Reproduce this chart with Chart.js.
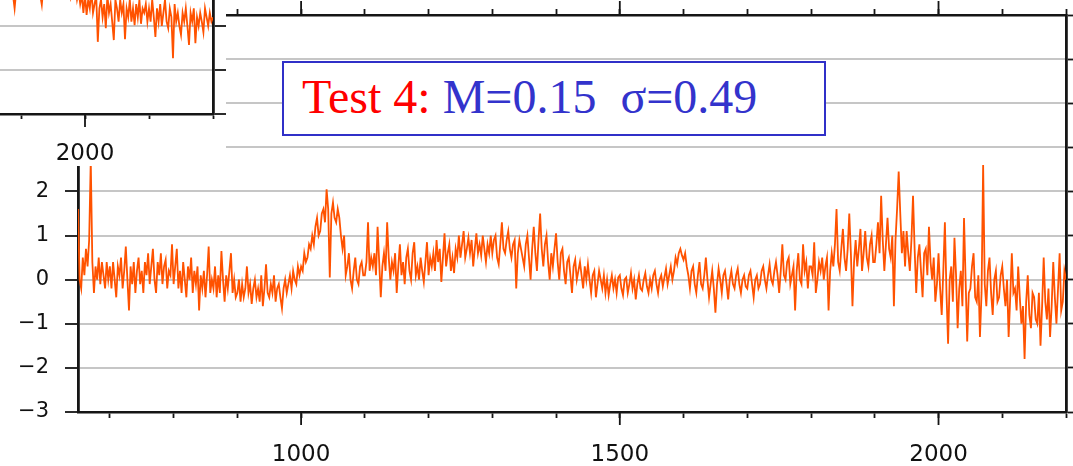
<!DOCTYPE html>
<html>
<head>
<meta charset="utf-8">
<script src="https://cdn.jsdelivr.net/npm/chart.js@4.4.1/dist/chart.umd.min.js"></script>
<style>
  html, body { margin: 0; padding: 0; background: #fff; }
  body { width: 1073px; height: 466px; position: relative; overflow: hidden; }
  #main { position: absolute; left: 0; top: 0; }
  #inset { position: absolute; left: -11px; top: -18px; background: #fff; z-index: 2; }
  #label {
    position: absolute; left: 282px; top: 61px; width: 540px; height: 71px;
    border: 2px solid #3030c8; background: #fff; z-index: 3;
  }
  #label span.t {
    position: absolute; left: 18px; top: 10px; white-space: pre;
    font-family: "Liberation Serif", "Times New Roman", serif; font-size: 48px; line-height: 1;
  }
</style>
</head>
<body>
<canvas id="main" width="1073" height="466"></canvas>
<canvas id="inset" width="237" height="184"></canvas>
<div id="label"><span class="t"><span style="color:#ff0000">Test 4: </span><span style="color:#3333cc">M=0.15  σ=0.49</span></span></div>
<script>
// ---- main series: one value every 2.5 years, starting at year 650 ----
const mainStartYear = 650;
const mainStepYears = 2.5;
const mainValues = [
  // 650
  1.6, 0.0, -0.2, 0.5, 0.1, 0.7, 0.3, 0.9, 2.7, 0.4, -0.3, 0.3, 0.0, 0.5, -0.1, 0.4, 0.1, -0.2, 0.4, 0.0,
  // 700
  0.3, -0.2, 0.4, 0.0, -0.4, 0.3, 0.1, 0.5, -0.2, 0.2, 0.75, 0.0, -0.7, 0.3, -0.1, 0.4, -0.3, 0.2, 0.5, -0.1,
  // 750
  0.2, -0.3, 0.4, 0.1, 0.6, -0.1, 0.3, 0.7, 0.0, -0.3, 0.4, 0.1, 0.6, -0.1, 0.3, 0.45, -0.2, 0.2, 0.1, 0.8,
  // 800
  -0.1, 0.3, 0.7, -0.2, 0.2, -0.3, 0.4, 0.0, -0.4, 0.3, 0.0, 0.5, -0.3, 0.2, -0.1, 0.3, -0.7, 0.1, -0.2, 0.2,
  // 850
  -0.4, 0.1, 0.75, -0.3, 0.0, -0.2, 0.3, -0.4, 0.1, -0.3, 0.65, 0.0, -0.5, 0.1, -0.2, 0.2, 0.6, -0.3, 0.0, -0.4,
  // 900
  -0.3, 0.0, -0.5, -0.1, -0.4, -0.2, 0.3, -0.3, -0.1, -0.55, -0.2, 0.0, -0.4, -0.2, -0.5, 0.1, -0.6, -0.2, 0.35, -0.3,
  // 950
  -0.4, -0.1, -0.3, 0.1, -0.5, -0.2, -0.1, -0.4, -0.65, -0.2, 0.0, -0.3, -0.1, 0.1, -0.2, 0.2, 0.0, -0.1, 0.3, 0.1,
  // 1000
  0.3, 0.2, 0.6, 0.4, 0.5, 0.8, 0.7, 1.0, 0.8, 1.2, 1.4, 1.0, 1.1, 1.5, 1.6, 1.3, 2.05, 1.6, 0.05, 1.5,
  // 1050
  1.75, 1.4, 1.3, 1.6, 1.4, 1.0, 0.7, 1.0, 0.1, 0.3, 0.6, 0.0, -0.2, 0.2, 0.5, 0.0, -0.1, 0.3, 0.4, 0.1,
  // 1100
  0.1, 0.4, 1.3, 0.2, 0.5, 0.3, 0.6, 0.1, 1.2, 0.4, -0.4, 0.3, 0.6, 0.2, 1.3, 0.5, 0.0, 0.4, 0.2, 0.6,
  // 1150
  -0.3, 0.3, 0.8, 0.1, 0.4, -0.1, 0.5, 0.7, 0.2, 0.0, 0.6, 0.85, 0.1, 0.3, 0.0, 0.5, 0.2, -0.05, 0.4, 0.85,
  // 1200
  0.1, 0.5, 0.3, 0.6, 0.2, 0.9, 0.4, 0.7, -0.05, 0.5, 1.05, 0.3, 0.6, 0.8, 0.2, 0.5, 0.15, 0.7, 0.5, 1.0,
  // 1250
  0.5, 0.8, 1.1, 0.5, 0.7, 0.95, 0.6, 0.9, 0.3, 0.7, 1.05, 0.6, 0.8, 0.55, 1.0, 0.7, 0.4, 0.8, 0.6, 1.0,
  // 1300
  0.6, 0.9, 1.0, 0.5, 0.35, 0.8, 1.3, 0.7, 0.6, 0.9, 1.1, 0.7, 0.5, 0.8, 0.9, -0.2, 0.6, 0.9, 0.7, 0.5,
  // 1350
  0.3, 0.8, 1.0, 0.5, 0.0, 0.7, 1.2, 0.6, 0.2, 0.9, 1.5, 0.7, 0.3, 0.8, 1.0, 0.4, 0.0, 0.6, 0.3, 0.7,
  // 1400
  1.05, 0.4, 0.0, 0.6, 0.7, 0.2, -0.1, 0.4, 0.5, 0.1, -0.3, 0.3, 0.45, 0.0, 0.2, 0.4, 0.1, -0.2, 0.3, 0.0,
  // 1450
  0.35, 0.0, -0.3, 0.1, 0.2, -0.4, -0.1, 0.2, 0.0, -0.2, 0.1, -0.3, 0.0, -0.35, -0.1, 0.1, -0.2, 0.0, -0.3, 0.05,
  // 1500
  0.1, -0.2, -0.35, 0.0, 0.05, -0.3, -0.1, 0.15, -0.2, 0.0, -0.45, -0.1, 0.1, -0.2, -0.25, 0.0, 0.15, -0.15, -0.3, 0.0,
  // 1550
  -0.2, 0.1, 0.2, -0.1, -0.3, 0.0, 0.1, -0.15, 0.05, 0.25, -0.1, 0.1, 0.3, 0.0, 0.2, 0.5, 0.35, 0.6, 0.7, 0.55,
  // 1600
  0.45, 0.6, 0.3, 0.1, -0.2, 0.2, 0.3, -0.1, -0.3, 0.1, 0.4, -0.1, -0.2, 0.1, 0.5, 0.0, -0.4, -0.1, 0.2, -0.2,
  // 1650
  -0.75, -0.1, 0.25, 0.0, -0.3, 0.1, 0.2, -0.1, -0.45, 0.0, 0.2, -0.1, -0.2, 0.1, 0.25, -0.1, -0.3, 0.0, 0.1, -0.15,
  // 1700
  -0.2, 0.1, 0.2, -0.1, -0.4, 0.0, 0.1, -0.2, -0.1, 0.2, 0.3, 0.0, -0.2, 0.1, 0.35, 0.0, -0.1, 0.2, 0.4, 0.1,
  // 1750
  -0.3, 0.2, 0.8, 0.1, 0.0, 0.4, 0.5, -0.1, 0.1, 0.3, -0.7, 0.2, 0.6, 0.0, -0.1, 0.8, 0.2, 0.4, -0.2, 0.3,
  // 1800
  0.3, 0.1, 0.85, -0.3, 0.0, 0.4, 0.2, 0.5, 0.0, 0.3, 0.5, -0.7, 0.2, 0.6, 0.3, 0.8, 1.6, 0.4, 0.2, 0.7,
  // 1850
  1.15, 0.5, 0.2, 0.7, 1.5, 0.6, -0.6, 0.4, 0.9, 0.3, 0.7, 1.15, 0.2, 0.6, 1.1, 0.5, 0.3, 0.8, 1.0, 0.4,
  // 1900
  0.4, 0.8, 1.3, 0.6, 1.9, 0.9, 0.2, 0.8, 1.4, 0.7, 0.5, 1.0, -0.6, 0.9, 1.6, 2.45, 1.5, 0.6, 1.1, 0.3,
  // 1950
  1.1, 0.6, 0.2, 0.9, 1.9, 0.7, -0.3, 0.5, 0.8, 0.2, -0.4, 0.6, 0.7, 0.1, 1.2, 0.4, 0.0, 0.5, -0.5, -0.1,
  // 2000
  0.6, -0.2, -0.8, 0.2, 1.3, -0.3, -1.45, 0.0, 0.3, -0.5, 0.95, 0.1, -1.1, -0.2, 0.2, -0.6, 1.4, 0.0, -1.4, -0.3,
  // 2050
  -0.2, 0.3, 0.6, -0.4, -0.5, 0.1, -1.3, -0.3, 2.6, -0.1, -0.6, 0.2, 0.5, -0.3, -0.8, 0.0, 0.2, -0.5, -0.4, 0.1,
  // 2100
  0.3, -0.2, -0.6, 0.0, -1.3, -0.4, 0.6, -0.3, -0.2, -0.7, 0.3, -0.4, -1.0, -0.6, -1.8, -0.5, 0.1, -0.8, -1.1, -0.3,
  // 2150-2200
  -0.4, -0.9, -1.0, -0.3, -1.5, -0.6, 0.5, -0.5, -0.9, -0.2, -1.3, -0.6, 0.4, -0.4, -1.0, -0.2, 0.6, -0.7, -0.5, 0.2, 0.0
];

// ---- partially visible neighbouring panel (top-left), one value every 2.5 years from 1850 ----
const insetStartYear = 1850;
const insetStepYears = 2.5;
const insetValues = [
  -0.2, -0.1, -0.3, -0.2, -0.1, -0.25, -0.2, -0.1, -0.3, -0.15, -0.2, -0.1, -0.3, -0.2, -0.1, -0.3, -0.6, -0.2, -0.1, -0.3,
  -0.2, -0.1, -0.3, -0.2, -0.1, -0.25, -0.2, -0.1, -0.3, -0.15, -0.2, -0.1, -0.3, -0.52, -0.1, -0.3, -0.2, -0.1, -0.3, -0.2,
  -0.1, -0.3, -0.2, -0.1, -0.3, -0.15, -0.2, -0.1, -0.3, -0.2, -0.1, -0.35, -0.2, -0.3, -0.1, -0.4, -0.2, -0.5, -0.3, -0.7,
  -0.3, -0.75, -0.4, -0.6, -0.2, -0.7, -0.5, -0.3, -1.36, -0.6, -0.4, -0.8, -0.5, -1.05, -0.3, -0.7, -0.5, -0.9, -1.32, -0.4,
  -0.6, -0.9, -0.4, -0.7, -0.5, -1.3, -0.6, -0.8, -0.4, -0.9, -0.6, -0.98, -0.5, -0.8, -0.4, -0.95, -0.6, -0.7, -0.5, -0.9,
  -0.6, -0.9, -0.4, -0.8, -1.25, -0.6, -0.9, -0.5, -1.0, -0.7, -0.4, -0.9, -1.05, -0.6, -0.8, -1.73, -0.5, -0.9, -0.7, -1.0,
  -1.2, -0.7, -0.9, -0.6, -1.0, -1.43, -0.7, -0.9, -0.6, -1.39, -0.8, -1.0, -0.7, -0.9, -1.14, -0.6, -0.8, -1.0, -0.7, -0.9, -0.8
];

// axis tick definitions
const xMin = 650, xMax = 2200;
const yMin = -3, yMax = 6;
const xMajorTicks = [1000, 1500, 2000];
const insetXMin = 1850, insetXMax = 2200;
const insetYMin = -3, insetYMax = 0;

const toPoints = (start, step, vals) => vals.map((v, i) => ({ x: start + step * i, y: v }));

const AXIS = '#151515';
const GRID = '#c6c6c6';
const ORANGE = '#ff5200';
const tickFont = { family: 'DejaVu Sans', size: 23 };

// fixed axis size and no label overhang padding
const fixSize = (w, h) => s => {
  if (w !== null) s.width = w;
  if (h !== null) s.height = h;
  s.paddingTop = 0; s.paddingBottom = 0; s.paddingLeft = 0; s.paddingRight = 0;
};

const majorTickPlugin = {
  id: 'majorTicks',
  afterDraw(chart, args, opts) {
    const ctx = chart.ctx;
    const xs = chart.scales.x;
    ctx.save();
    ctx.strokeStyle = AXIS;
    ctx.lineWidth = 1.8;
    for (const v of opts.values) {
      if (v < xs.min || v > xs.max) continue;
      const px = xs.getPixelForValue(v);
      ctx.beginPath();
      ctx.moveTo(px, chart.chartArea.bottom);
      ctx.lineTo(px, chart.chartArea.bottom + 13);
      if (opts.top) {
        ctx.moveTo(px, chart.chartArea.top);
        ctx.lineTo(px, chart.chartArea.top - 14);
      }
      ctx.stroke();
    }
    ctx.restore();
  }
};

const xLabel = v => (v % 500 === 0 ? String(v) : '');
const minus = v => String(v).replace('-', '\u2212');

new Chart(document.getElementById('main'), {
  type: 'line',
  data: {
    datasets: [{
      data: toPoints(mainStartYear, mainStepYears, mainValues),
      borderColor: ORANGE,
      borderWidth: 1.8,
      pointRadius: 0,
      tension: 0
    }]
  },
  options: {
    responsive: false,
    animation: false,
    devicePixelRatio: 1,
    layout: { padding: 0 },
    plugins: { legend: { display: false }, tooltip: { enabled: false },
               majorTicks: { values: xMajorTicks, top: true } },
    scales: {
      x: {
        type: 'linear', position: 'bottom', min: xMin, max: xMax,
        afterFit: fixSize(null, 54),
        ticks: { stepSize: 100, includeBounds: false, autoSkip: false, maxRotation: 0,
                 callback: xLabel, font: tickFont, color: '#111', padding: 23 },
        grid: { drawOnChartArea: false, tickLength: 6, tickColor: AXIS, tickWidth: 1.8 },
        border: { display: true, color: AXIS, width: 2.5 }
      },
      x2: {
        type: 'linear', position: 'top', min: xMin, max: xMax,
        afterFit: fixSize(null, 15),
        ticks: { stepSize: 100, includeBounds: false, autoSkip: false, display: false },
        grid: { drawOnChartArea: false, tickLength: 6, tickColor: AXIS, tickWidth: 1.8 },
        border: { display: true, color: AXIS, width: 2.5 }
      },
      y: {
        type: 'linear', position: 'left', min: yMin, max: yMax,
        afterFit: fixSize(78, null),
        ticks: { stepSize: 1, font: { family: 'DejaVu Sans', size: 21 }, color: '#111', padding: 16,
                 callback: minus },
        grid: { color: GRID, lineWidth: 2, tickLength: 13, tickColor: AXIS, tickWidth: 1.8 },
        border: { display: true, color: AXIS, width: 2.8 }
      },
      y2: {
        type: 'linear', position: 'right', min: yMin, max: yMax,
        afterFit: fixSize(7, null),
        ticks: { stepSize: 1, display: false },
        grid: { drawOnChartArea: false, tickLength: 7, tickColor: AXIS, tickWidth: 1.8 },
        border: { display: true, color: AXIS, width: 2.8 }
      }
    }
  },
  plugins: [majorTickPlugin]
});

new Chart(document.getElementById('inset'), {
  type: 'line',
  data: {
    datasets: [{
      data: toPoints(insetStartYear, insetStepYears, insetValues),
      borderColor: ORANGE,
      borderWidth: 1.8,
      pointRadius: 0,
      tension: 0
    }]
  },
  options: {
    responsive: false,
    animation: false,
    devicePixelRatio: 1,
    layout: { padding: 0 },
    plugins: { legend: { display: false }, tooltip: { enabled: false },
               majorTicks: { values: xMajorTicks, top: false } },
    scales: {
      x: {
        type: 'linear', position: 'bottom', min: insetXMin, max: insetXMax,
        afterFit: fixSize(null, 52),
        ticks: { stepSize: 100, includeBounds: false, autoSkip: false, maxRotation: 0,
                 callback: xLabel, font: tickFont, color: '#111', padding: 21 },
        grid: { drawOnChartArea: false, tickLength: 5, tickColor: AXIS, tickWidth: 1.8 },
        border: { display: true, color: AXIS, width: 2.5 }
      },
      y: {
        type: 'linear', position: 'right', min: insetYMin, max: insetYMax,
        afterFit: fixSize(13, null),
        ticks: { stepSize: 1, display: false },
        grid: { color: GRID, lineWidth: 2, tickLength: 13, tickColor: AXIS, tickWidth: 1.8 },
        border: { display: true, color: AXIS, width: 2.8 }
      }
    }
  },
  plugins: [majorTickPlugin]
});
</script>
</body>
</html>
